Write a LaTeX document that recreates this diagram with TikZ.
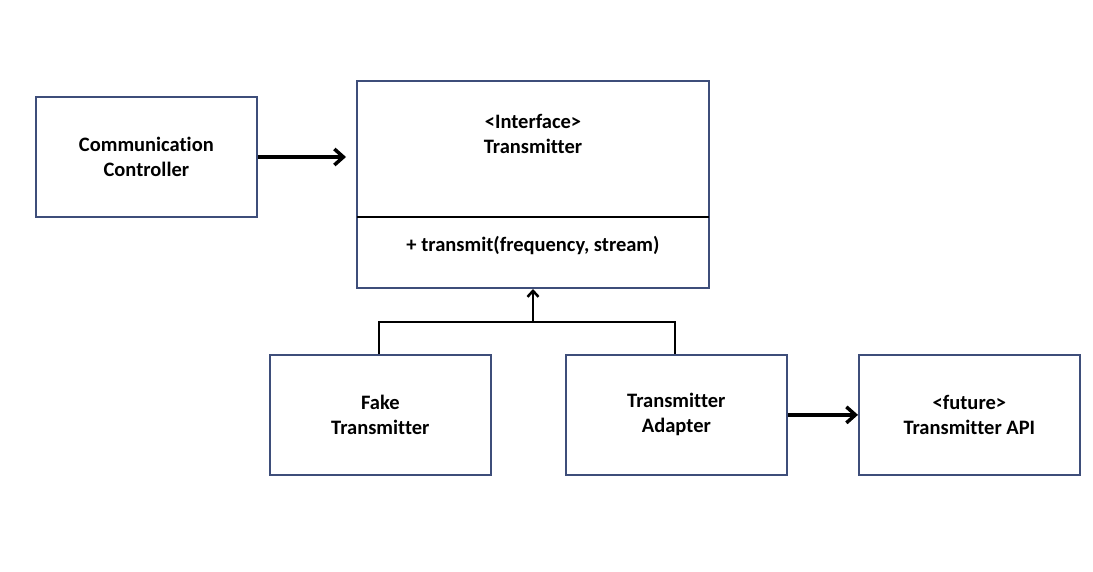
\documentclass[tikz,border=0pt]{standalone}
\usepackage{fontspec}
\setmainfont{Carlito}[Ligatures={NoCommon}]
\usetikzlibrary{arrows.meta}
\definecolor{boxc}{RGB}{62,78,122}
\tikzset{
  cls/.style={draw=boxc, line width=1.75pt, fill=white, minimum width=221pt, minimum height=120pt, inner sep=0pt, align=center, font=\fontsize{20.5}{25}\selectfont\bfseries},
  bigarrow/.style={line width=3.5pt, -{Straight Barb[length=9pt,width=16pt,line width=3.5pt]}},
  inherit/.style={line width=2.5pt},
  inhtip/.style={line width=2.5pt, -{Straight Barb[length=6pt,width=11pt,line width=2.5pt]}},
  txt/.style={font=\fontsize{20.5}{25}\selectfont\bfseries, align=center, inner sep=0pt}
}
\begin{document}
\begin{tikzpicture}[x=1pt,y=-1pt]
\useasboundingbox (0,0) rectangle (1093,572);
\fill[white] (0,0) rectangle (1093,572);
% Communication Controller
\node[cls, anchor=north west] (cc) at (35,96) {Communication\\Controller};
% Interface box
\draw[draw=boxc, line width=1.75pt] (357,81) rectangle (709,288);
\node[txt] (trtitle) at (533,133.5) {<Interface>\\Transmitter};
\coordinate (divl) at (357,217);
\coordinate (divr) at (709,217);
\draw[line width=2pt] (divl) -- (divr);
\node[txt] (trmeth) at (533,246) {+ transmit(frequency, stream)};
\coordinate (trbot) at (533,289);
\coordinate (trleft) at (346,157);
% lower boxes
\node[cls, anchor=north west] (fake) at (269,354) {Fake\\Transmitter};
\node[cls, anchor=north west] (adapt) at (565,354) {Transmitter\\Adapter};
\node[cls, anchor=north west] (api) at (858,354) {<future>\\Transmitter API};
% connectors
\draw[bigarrow] (cc.east |- trleft) -- (trleft);
\coordinate (jl) at (379,322);
\coordinate (jr) at (675,322);
\coordinate (jm) at (533,322);
\draw[inherit] (fake.north west -| jl) -- (jl) -- (jr) -- (adapt.north west -| jr);
\draw[inhtip] (jm) -- (trbot);
\draw[bigarrow] (adapt.east) -- (api.west);
\end{tikzpicture}
\end{document}
